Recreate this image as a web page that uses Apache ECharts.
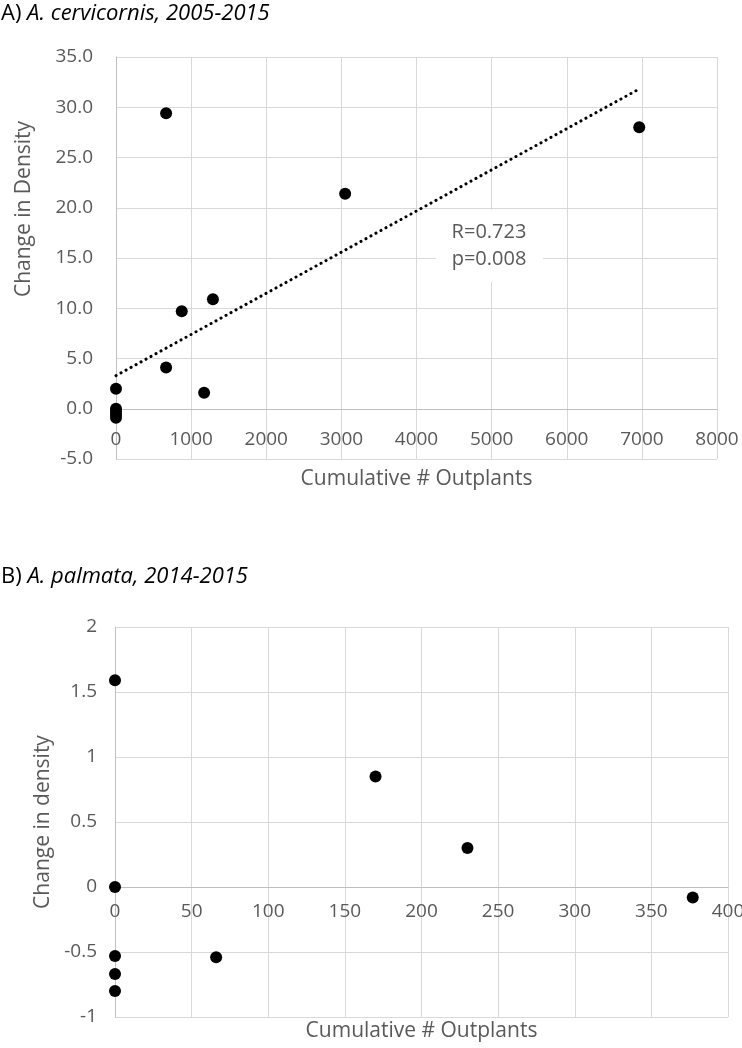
<!DOCTYPE html>
<html>
<head>
<meta charset="utf-8">
<style>html,body{margin:0;padding:0;background:#fff;}#c{width:742px;height:1048px;}</style>
<script src="https://cdn.jsdelivr.net/npm/echarts@6/dist/echarts.min.js"></script>
</head>
<body>
<div id="c"></div>
<script>
// Panel A: A. cervicornis, 2005-2015
var aX = [0, 0, 0, 0, 0, 667, 875, 1173, 1290, 667, 3050, 6965];
var aY = [2.0, 0.0, -0.3, -0.6, -0.9, 4.1, 9.7, 1.6, 10.9, 29.4, 21.4, 28.0];
var aTrendX = [0, 6960];
var aTrendY = [3.3, 31.8];
var aStats = ['R=0.723', 'p=0.008'];
// Panel B: A. palmata, 2014-2015
var bX = [0, 0, 0, 0, 0, 66, 170, 230, 377];
var bY = [1.59, 0, -0.53, -0.67, -0.80, -0.54, 0.85, 0.30, -0.08];

var FONT = '"Open Sans", "Noto Sans", sans-serif';
var LBL = '#595959';
var GRID = '#d9d9d9';
var AXIS = '#bfbfbf';

function pairs(xs, ys) { return xs.map(function (x, i) { return [x, ys[i]]; }); }
function plain(v) { return String(v); }

var chart = echarts.init(document.getElementById('c'), null, {renderer: 'canvas'});
chart.setOption({
  animation: false,
  backgroundColor: '#fff',
  grid: [
    {left: 116, right: 25, top: 57, bottom: 589, containLabel: false, outerBoundsMode: 'none'},
    {left: 115, right: 14, top: 627, bottom: 31, containLabel: false, outerBoundsMode: 'none'}
  ],
  xAxis: [
    {gridIndex: 0, type: 'value', min: 0, max: 8000, interval: 1000, position: 'bottom', offset: -50,
     name: 'Cumulative # Outplants', nameLocation: 'middle', nameGap: 60,
     nameTextStyle: {color: LBL, fontSize: 21, fontFamily: FONT},
     axisLine: {onZero: false, lineStyle: {color: AXIS}}, axisTick: {show: false},
     axisLabel: {color: LBL, fontSize: 19, fontFamily: FONT, margin: 21, formatter: plain},
     splitLine: {show: true, lineStyle: {color: GRID, width: 1}}},
    {gridIndex: 1, type: 'value', min: 0, max: 400, interval: 50, position: 'bottom', offset: -130,
     name: 'Cumulative # Outplants', nameLocation: 'middle', nameGap: 134,
     nameTextStyle: {color: LBL, fontSize: 21, fontFamily: FONT},
     axisLine: {onZero: false, lineStyle: {color: AXIS}}, axisTick: {show: false},
     axisLabel: {color: LBL, fontSize: 19, fontFamily: FONT, margin: 15, formatter: plain},
     splitLine: {show: true, lineStyle: {color: GRID, width: 1}}}
  ],
  yAxis: [
    {gridIndex: 0, type: 'value', min: -5, max: 35, interval: 5,
     axisLine: {show: true, onZero: false, lineStyle: {color: AXIS}}, axisTick: {show: false},
     axisLabel: {color: LBL, fontSize: 19, fontFamily: FONT, margin: 23,
                 formatter: function (v) { return v.toFixed(1); }},
     splitLine: {show: true, lineStyle: {color: GRID, width: 1}}},
    {gridIndex: 1, type: 'value', min: -1, max: 2, interval: 0.5,
     name: 'Change in density', nameLocation: 'middle', nameGap: 60,
     nameTextStyle: {color: LBL, fontSize: 21, fontFamily: FONT},
     axisLine: {show: true, onZero: false, lineStyle: {color: AXIS}}, axisTick: {show: false},
     axisLabel: {color: LBL, fontSize: 19, fontFamily: FONT, margin: 18, formatter: plain},
     splitLine: {show: true, lineStyle: {color: GRID, width: 1}}}
  ],
  series: [
    {type: 'line', xAxisIndex: 0, yAxisIndex: 0, data: pairs(aTrendX, aTrendY),
     symbol: 'none', z: 2,
     lineStyle: {color: '#000', width: 3, type: [0.1, 5.6], cap: 'round'}},
    {type: 'scatter', xAxisIndex: 0, yAxisIndex: 0, data: pairs(aX, aY),
     symbol: 'circle', symbolSize: 12, itemStyle: {color: '#000', opacity: 1}, z: 3},
    {type: 'scatter', xAxisIndex: 1, yAxisIndex: 1, data: pairs(bX, bY),
     symbol: 'circle', symbolSize: 12, itemStyle: {color: '#000', opacity: 1}, z: 3}
  ],
  graphic: [
    {type: 'text', x: 1, y: 14, z: 10,
     style: {text: '{n|A) }{i|A. cervicornis, 2005-2015}', verticalAlign: 'middle',
       rich: {n: {fontSize: 22, fontFamily: FONT, fill: '#000'},
              i: {fontSize: 22, fontFamily: FONT, fontStyle: 'italic', fill: '#000'}}}},
    {type: 'text', x: 1, y: 577, z: 10,
     style: {text: '{n|B) }{i|A. palmata, 2014-2015}', verticalAlign: 'middle',
       rich: {n: {fontSize: 22, fontFamily: FONT, fill: '#000'},
              i: {fontSize: 22, fontFamily: FONT, fontStyle: 'italic', fill: '#000'}}}},
    {type: 'text', x: 24, y: 209, rotation: Math.PI / 2, z: 10,
     style: {text: 'Change in Density', textAlign: 'center', verticalAlign: 'middle',
             fontSize: 21, fontFamily: FONT, fill: LBL}},
    {type: 'rect', shape: {x: 436, y: 210, width: 107, height: 72}, z: 5,
     style: {fill: '#fff'}},
    {type: 'text', x: 489, y: 246, z: 6,
     style: {text: aStats.join('\n'), textAlign: 'center', verticalAlign: 'middle',
             fontSize: 20, lineHeight: 27, fontFamily: FONT, fill: LBL}}
  ]
});
</script>
</body>
</html>
